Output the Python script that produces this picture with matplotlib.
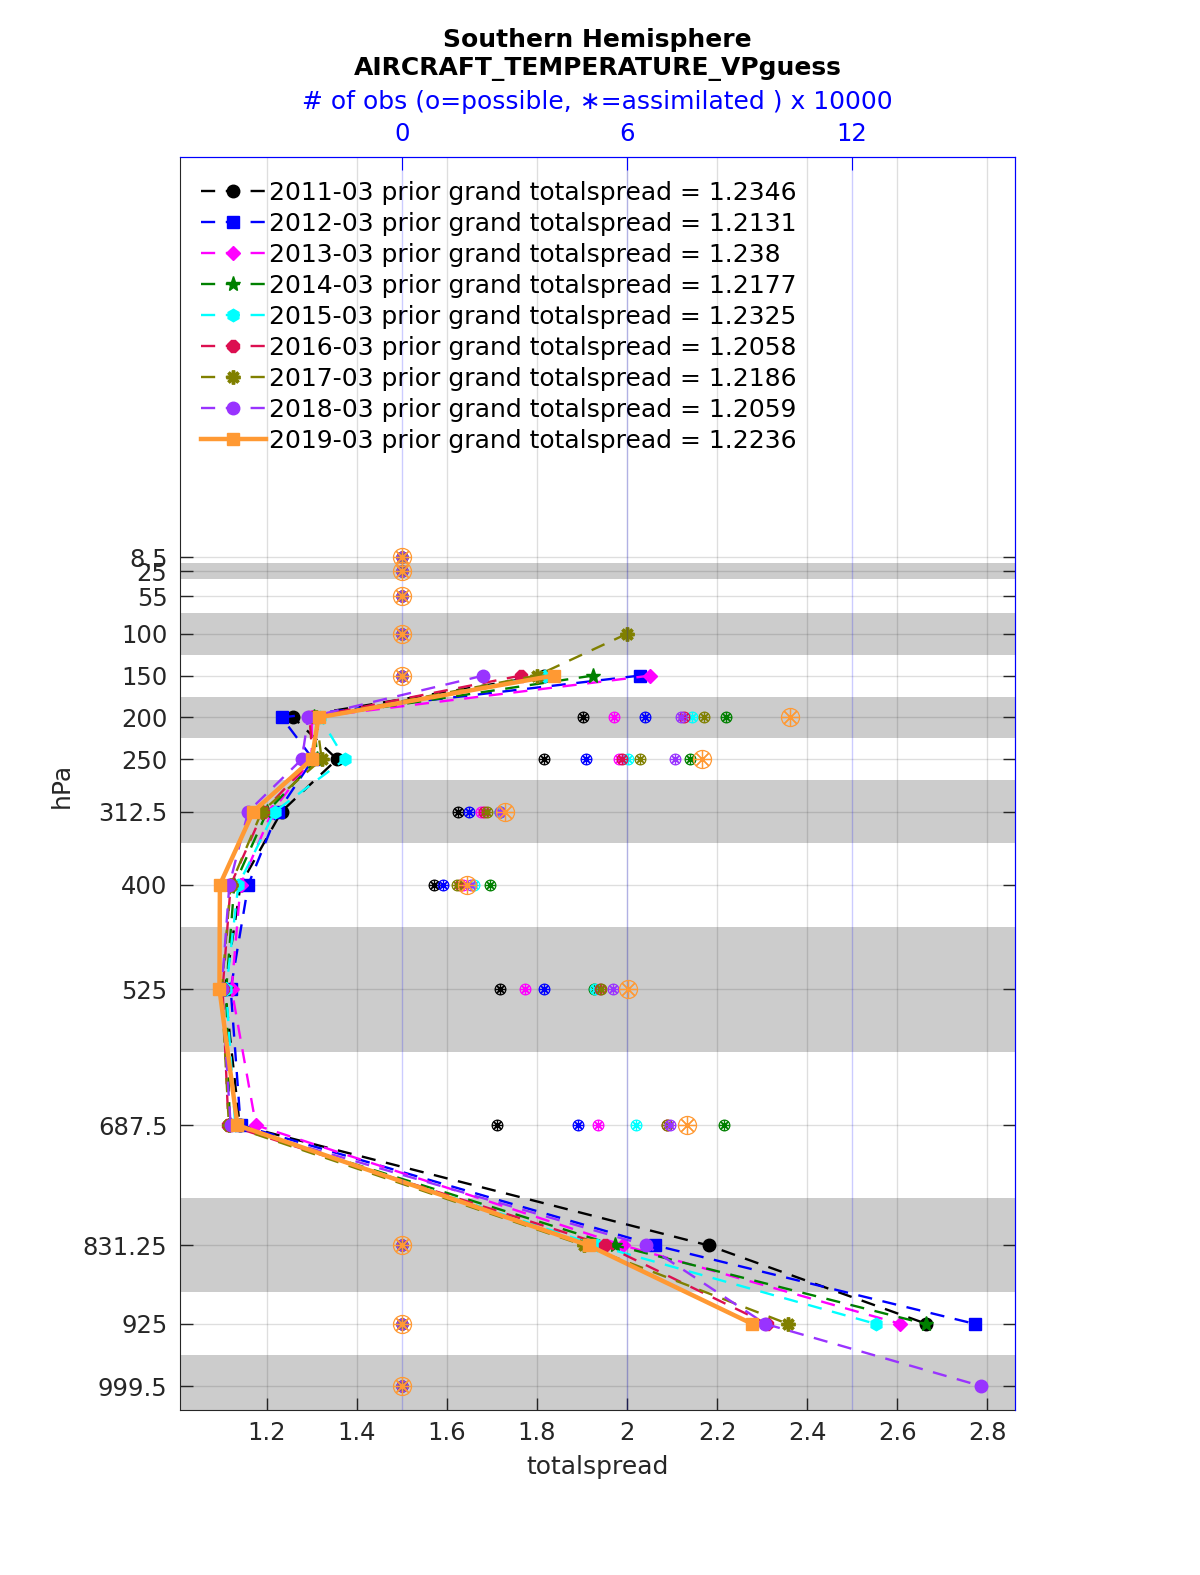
import matplotlib
matplotlib.use('Agg')
import matplotlib.pyplot as plt
import numpy as np

plt.rcParams['font.family'] = ['DejaVu Sans']

nan = np.nan
levels = [8.5, 25, 55, 100, 150, 200, 250, 312.5, 400, 525, 687.5, 831.25, 925, 999.5]
level_labels = ['8.5', '25', '55', '100', '150', '200', '250', '312.5', '400', '525',
                '687.5', '831.25', '925', '999.5']
shaded_layers = [(15, 35), (75, 125), (175, 225), (275, 350), (450, 600), (775, 887.5), (962.5, 1036.5)]

years = ['2011-03', '2012-03', '2013-03', '2014-03', '2015-03', '2016-03', '2017-03', '2018-03', '2019-03']
grand_totalspread = ['1.2346', '1.2131', '1.238', '1.2177', '1.2325', '1.2058', '1.2186', '1.2059', '1.2236']

spread_2011 = [nan, nan, nan, nan, 1.815, 1.259, 1.356, 1.233, 1.142, 1.107, 1.140, 2.181, 2.665, nan]
spread_2012 = [nan, nan, nan, nan, 2.028, 1.233, 1.303, 1.225, 1.159, 1.120, 1.142, 2.063, 2.772, nan]
spread_2013 = [nan, nan, nan, nan, 2.052, 1.300, 1.300, 1.212, 1.142, 1.122, 1.176, 1.992, 2.607, nan]
spread_2014 = [nan, nan, nan, nan, 1.924, 1.305, 1.312, 1.201, 1.128, 1.110, 1.118, 1.974, 2.663, nan]
spread_2015 = [nan, nan, nan, nan, 1.818, 1.318, 1.374, 1.218, 1.137, 1.110, 1.130, 1.933, 2.552, nan]
spread_2016 = [nan, nan, nan, nan, 1.764, 1.295, 1.302, 1.192, 1.120, 1.102, 1.115, 1.952, 2.311, nan]
spread_2017 = [nan, nan, nan, 2.000, 1.800, 1.310, 1.322, 1.189, 1.120, 1.100, 1.116, 1.905, 2.357, nan]
spread_2018 = [nan, nan, nan, nan, 1.681, 1.292, 1.278, 1.159, 1.117, 1.100, 1.120, 2.043, 2.307, 2.787]
spread_2019 = [nan, nan, nan, nan, 1.837, 1.315, 1.300, 1.170, 1.096, 1.095, 1.135, 1.915, 2.278, nan]

# number of observations (x 10000): possible == assimilated
obs_2011 = [0, 0, 0, 0, 0, 4.83, 3.80, 1.51, 0.86, 2.62, 2.54, 0, 0, 0]
obs_2012 = [0, 0, 0, 0, 0, 6.47, 4.91, 1.78, 1.09, 3.78, 4.70, 0, 0, 0]
obs_2013 = [0, 0, 0, 0, 0, 5.66, 5.80, 2.11, 1.64, 3.27, 5.23, 0, 0, 0]
obs_2014 = [0, 0, 0, 0, 0, 8.65, 7.69, 2.62, 2.35, 5.11, 8.58, 0, 0, 0]
obs_2015 = [0, 0, 0, 0, 0, 7.73, 6.03, 2.62, 1.93, 5.15, 6.25, 0, 0, 0]
obs_2016 = [0, 0, 0, 0, 0, 7.51, 5.87, 2.18, 1.55, 5.28, 7.07, 0, 0, 0]
obs_2017 = [0, 0, 0, 0, 0, 8.04, 6.35, 2.28, 1.48, 5.31, 7.07, 0, 0, 0]
obs_2018 = [0, 0, 0, 0, 0, 7.44, 7.27, 2.62, 1.84, 5.62, 7.15, 0, 0, 0]
obs_2019 = [0, 0, 0, 0, 0, 10.35, 8.00, 2.75, 1.73, 6.04, 7.61, 0, 0, 0]

spreads = [spread_2011, spread_2012, spread_2013, spread_2014, spread_2015,
           spread_2016, spread_2017, spread_2018, spread_2019]
obs = [obs_2011, obs_2012, obs_2013, obs_2014, obs_2015, obs_2016, obs_2017, obs_2018, obs_2019]

colors = ['black', '#0000FF', '#FF00FF', '#008000', '#00FFFF', '#DC0F50', '#808000', '#9933FF', '#FF9933']
markers = ['o', 's', 'D', '*', 'h', '8', (8, 2, 0), 'o', 's']
msizes = [9, 8, 7.5, 11, 9, 9, 10, 9, 8]

fig = plt.figure(figsize=(12, 15.75), dpi=100)
ax = fig.add_axes([180 / 1200, 1 - 1410 / 1575, 835 / 1200, 1253 / 1575])

xlim = (1.0074, 2.8616)
ax.set_xlim(*xlim)
ax.set_ylim(1028, -470)

for lo, hi in shaded_layers:
    ax.axhspan(lo, hi, color='#CCCCCC', lw=0, zorder=0.1)

ax.set_xticks([1.2, 1.4, 1.6, 1.8, 2.0, 2.2, 2.4, 2.6, 2.8])
ax.set_xticklabels(['1.2', '1.4', '1.6', '1.8', '2', '2.2', '2.4', '2.6', '2.8'])
ax.set_yticks(levels)
ax.set_yticklabels(level_labels)
ax.grid(True, color='#262626', alpha=0.15, lw=1)
for gl in ax.get_xgridlines() + ax.get_ygridlines():
    gl.set_zorder(0.5)
ax.tick_params(axis='both', direction='in', length=9, width=1, labelsize=17.5, color='#262626',
               labelcolor='#262626', right=True)
ax.tick_params(axis='x', pad=8)
ax.tick_params(axis='y', pad=9)
for s in ['left', 'bottom']:
    ax.spines[s].set_color('#262626')
for s in ['top', 'right']:
    ax.spines[s].set_color('#0000FF')

handles = []
for i in range(9):
    label = f'{years[i]} prior grand totalspread = {grand_totalspread[i]}'
    if i == 8:
        h, = ax.plot(spreads[i], levels, color=colors[i], lw=3.2, ls='-', marker=markers[i],
                     ms=msizes[i], mfc=colors[i], mec=colors[i], zorder=3, label=label)
    else:
        mew = 2.5 if i == 6 else 1
        h, = ax.plot(spreads[i], levels, color=colors[i], lw=1.7, ls=(0, (6, 4.5)), marker=markers[i],
                     ms=msizes[i], mfc=colors[i], mec=colors[i], mew=mew, zorder=2, label=label)
    handles.append(h)

leg = ax.legend(handles=handles, loc='upper left', bbox_to_anchor=(0.004, 0.995), frameon=False,
                fontsize=18, handlelength=2.6, handletextpad=0.12, labelspacing=0.28,
                borderaxespad=0.3)

# top axis: number of observations
ax2 = ax.twiny()
ax2.set_xlim((xlim[0] - 1.5) * 12, (xlim[1] - 1.5) * 12)
ax2.set_xticks([0, 6, 12])
ax2.set_xticklabels(['0', '6', '12'])
ax2.tick_params(axis='x', direction='in', length=9, labelsize=17.5, colors='#0000FF', pad=8)
ax2.grid(True, axis='x', color='#0000FF', alpha=0.2, lw=1)
ax2.spines['left'].set_visible(False)
ax2.spines['bottom'].set_visible(False)
for s in ['top', 'right']:
    ax2.spines[s].set_color('#0000FF')
for i in range(9):
    ms = 13 if i == 8 else 7.7
    ax2.plot(obs[i], levels, ls='none', marker='o', ms=ms, mfc='none', mec=colors[i], mew=0.9)
    ax2.plot(obs[i], levels, ls='none', marker=(8, 2, 0), ms=ms, mfc='none', mec=colors[i], mew=0.9)
ax2.set_ylim(1028, -470)

fig.text(597.5 / 1200, 1 - 40 / 1575, 'Southern Hemisphere', ha='center', va='center',
         fontsize=18, fontweight='bold')
fig.text(597.5 / 1200, 1 - 69 / 1575, 'AIRCRAFT_TEMPERATURE_VPguess', ha='center', va='center',
         fontsize=18, fontweight='bold')
fig.text(597.5 / 1200, 1 - 102 / 1575, '# of obs (o=possible, \u2217=assimilated ) x 10000',
         ha='center', va='center', fontsize=18, color='#0000FF')
fig.text(597.5 / 1200, 1 - 1467 / 1575, 'totalspread', ha='center', va='center', fontsize=18,
         color='#262626')
fig.text(62 / 1200, 1 - 785 / 1575, 'hPa', ha='center', va='center', fontsize=18, rotation=90,
         color='#262626')

fig.savefig('out.png', dpi=100)
